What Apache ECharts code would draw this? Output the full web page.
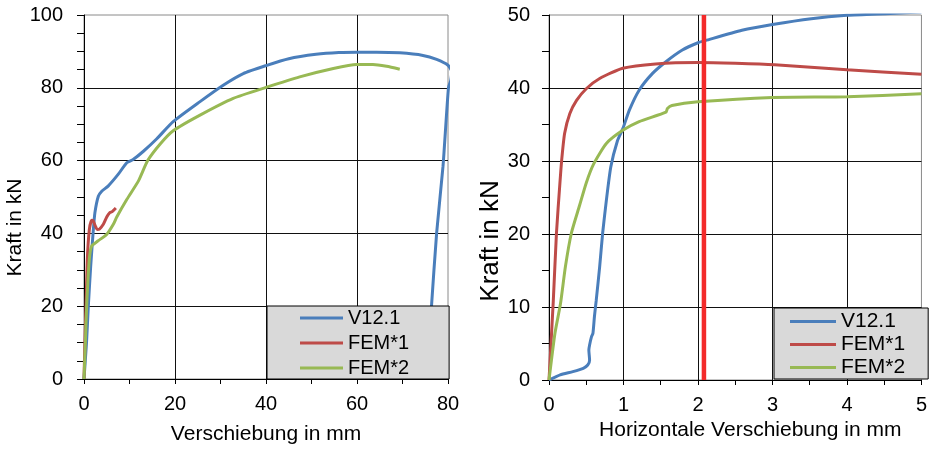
<!DOCTYPE html>
<html><head><meta charset="utf-8">
<script src="https://cdn.jsdelivr.net/npm/echarts@6/dist/echarts.min.js"></script>
<style>html,body{margin:0;padding:0;background:#fff}#c{width:930px;height:450px}</style>
</head><body><div id="c"></div>
<script>
// ---- data ----
const seriesNames = ['V12.1', 'FEM*1', 'FEM*2'];
const leftXTitle = 'Verschiebung in mm';
const rightXTitle = 'Horizontale Verschiebung in mm';
const yTitle = 'Kraft in kN';

// left chart: Kraft vs Verschiebung
const leftV121 = [[0,0],[0.55,10],[0.95,20],[1.47,31],[2.05,41],[2.4,45.7],[3.15,50.2],[3.9,51.6],[5.3,53],[7.5,56.2],[9.4,59.4],[10.8,60.3],[13,62.5],[16,66],[19.6,70.7],[25.5,76.2],[30.6,80.7],[35,83.9],[40,86.1],[45,88],[51,89.2],[56,89.7],[60,89.8],[64.3,89.8],[69.4,89.6],[74.5,88.9],[77.5,87.8],[80,86.2],[80.8,84.5],[80.6,82],[80.1,80],[78.9,58.4],[77.5,40.1],[76.4,20.5],[75.3,0]];
const leftFEM1 = [[0,0],[0.2,10],[0.44,20],[0.73,32.9],[1.17,41],[1.68,43.6],[2.05,43.4],[2.5,42],[2.9,41.1],[3.4,41.2],[4.25,42.5],[5.0,44.5],[5.6,45.6],[6.2,46],[7.0,47]];
const leftFEM2 = [[0,0],[0.3,10],[0.58,20],[1.17,32.9],[1.68,36.5],[3.15,38],[4.97,39.7],[6.45,42.5],[7.2,44.5],[9.4,49.3],[12,54.5],[14,60],[16.7,64.5],[19.6,68.2],[25.5,72.5],[32.8,77.1],[40,80.1],[47.4,83],[54.8,85.3],[59.9,86.4],[63.5,86.4],[66.5,85.9],[69.4,85.1]];

// right chart: Kraft vs horizontale Verschiebung
const rightV121 = [[0,0],[0.15,0.7],[0.32,1.15],[0.46,1.6],[0.52,2.05],[0.545,2.7],[0.535,4.1],[0.545,4.8],[0.57,5.9],[0.59,6.4],[0.61,8.7],[0.634,10.9],[0.68,15.5],[0.72,20.1],[0.77,24.6],[0.83,29.2],[0.92,32.8],[0.99,34.4],[1.08,37],[1.21,39.7],[1.39,42],[1.57,43.6],[1.79,45.2],[2.0,46.2],[2.1,46.5],[2.59,47.9],[3.0,48.7],[3.52,49.5],[4.0,49.95],[4.58,50.2],[5,50.4]];
const rightFEM1 = [[0,0],[0.058,10.9],[0.1,20.1],[0.146,26.9],[0.17,30.1],[0.21,33.8],[0.28,36.5],[0.37,38.3],[0.5,39.9],[0.68,41.3],[0.99,42.7],[1.43,43.3],[2.0,43.5],[2.5,43.4],[3.03,43.2],[4.0,42.5],[5,41.9]];
const rightFEM2 = [[0,0],[0.08,6.4],[0.155,10.5],[0.22,15.5],[0.3,20.1],[0.41,23.9],[0.5,27],[0.6,29.6],[0.77,32.4],[0.99,34.2],[1.21,35.4],[1.57,36.7],[1.59,37.2],[1.65,37.6],[2.0,38.1],[3.0,38.7],[4.0,38.8],[5,39.2]];
const rightMarker = [[2.08,0],[2.08,50]];

// ---- style ----
const FONT = '"Liberation Sans", Arial, sans-serif';
const COLORS = ['#4a7ebb', '#be4b48', '#98b954'];

function axis(gridIndex, min, max, interval, minorSplit, tickLen, labelMargin, extra) {
  return Object.assign({
    gridIndex, type: 'value', min, max, interval,
    axisLine: { show: true, onZero: false, lineStyle: { color: '#000', width: 1 } },
    axisTick: { show: true, inside: false, length: tickLen, lineStyle: { color: '#000', width: 1 } },
    minorTick: { show: true, splitNumber: minorSplit, length: tickLen, lineStyle: { color: '#000', width: 1 } },
    splitLine: { show: true, showMaxLine: false, lineStyle: { color: '#111', width: 1 } },
    axisLabel: { color: '#000', fontSize: 20, fontFamily: FONT, margin: labelMargin },
    nameLocation: 'middle'
  }, extra);
}

function ser(name, data, color, xi) {
  return { type: 'line', name, data, xAxisIndex: xi, yAxisIndex: xi, symbol: 'none', showSymbol: false,
    smooth: 0.2, clip: true, lineStyle: { width: 3, color }, itemStyle: { color }, emphasis: { disabled: true } };
}

const chart = echarts.init(document.getElementById('c'), null, { renderer: 'canvas' });
chart.setOption({
  animation: false,
  backgroundColor: '#fff',
  textStyle: { fontFamily: FONT },
  grid: [
    { left: 84, top: 15, width: 364, height: 365, show: true, borderColor: '#8a8a8a', borderWidth: 1, backgroundColor: 'transparent' },
    { left: 549, top: 15, width: 376, height: 365, show: true, borderColor: '#8a8a8a', borderWidth: 1, backgroundColor: 'transparent' }
  ],
  xAxis: [
    axis(0, 0, 80, 20, 2, 5, 15, { name: leftXTitle, nameGap: 45, nameTextStyle: { fontSize: 21, color: '#000', fontFamily: FONT } }),
    axis(1, 0, 5, 1, 2, 5, 15, { name: rightXTitle, nameGap: 40, nameTextStyle: { fontSize: 21, color: '#000', fontFamily: FONT, padding: [0, 0, 0, 30] } })
  ],
  yAxis: [
    axis(0, 0, 100, 20, 4, 7, 21, { name: yTitle, nameGap: 46, nameTextStyle: { fontSize: 21, color: '#000', fontFamily: FONT, padding: [0, 61, 0, 0] } }),
    axis(1, 0, 50, 10, 2, 7, 19, { name: yTitle, nameGap: 41, nameTextStyle: { fontSize: 26, color: '#000', fontFamily: FONT, padding: [0, 87, 0, 0] } })
  ],
  legend: [
    { orient: 'vertical', left: 267, top: 306, data: seriesNames, icon: 'rect', itemWidth: 43, itemHeight: 3, itemGap: 5,
      padding: [2, 40, 1, 33], backgroundColor: '#d9d9d9', borderColor: '#000', borderWidth: 1, selectedMode: false,
      textStyle: { fontSize: 20, color: '#000', fontFamily: FONT } },
    { orient: 'vertical', left: 774, top: 308, data: seriesNames, icon: 'rect', itemWidth: 46, itemHeight: 3, itemGap: 2,
      padding: [3, 23, 1, 16], backgroundColor: '#d9d9d9', borderColor: '#000', borderWidth: 1, selectedMode: false,
      textStyle: { fontSize: 21, color: '#000', fontFamily: FONT } }
  ],
  series: [
    ser(seriesNames[0], leftV121, COLORS[0], 0),
    ser(seriesNames[1], leftFEM1, COLORS[1], 0),
    ser(seriesNames[2], leftFEM2, COLORS[2], 0),
    ser(seriesNames[0], rightV121, COLORS[0], 1),
    ser(seriesNames[1], rightFEM1, COLORS[1], 1),
    ser(seriesNames[2], rightFEM2, COLORS[2], 1),
    Object.assign(ser('Markierung', rightMarker, '#f32a2a', 1), { smooth: false, lineStyle: { width: 4.5, color: '#f32a2a' }, z: 3 })
  ]
});
</script>
</body></html>
